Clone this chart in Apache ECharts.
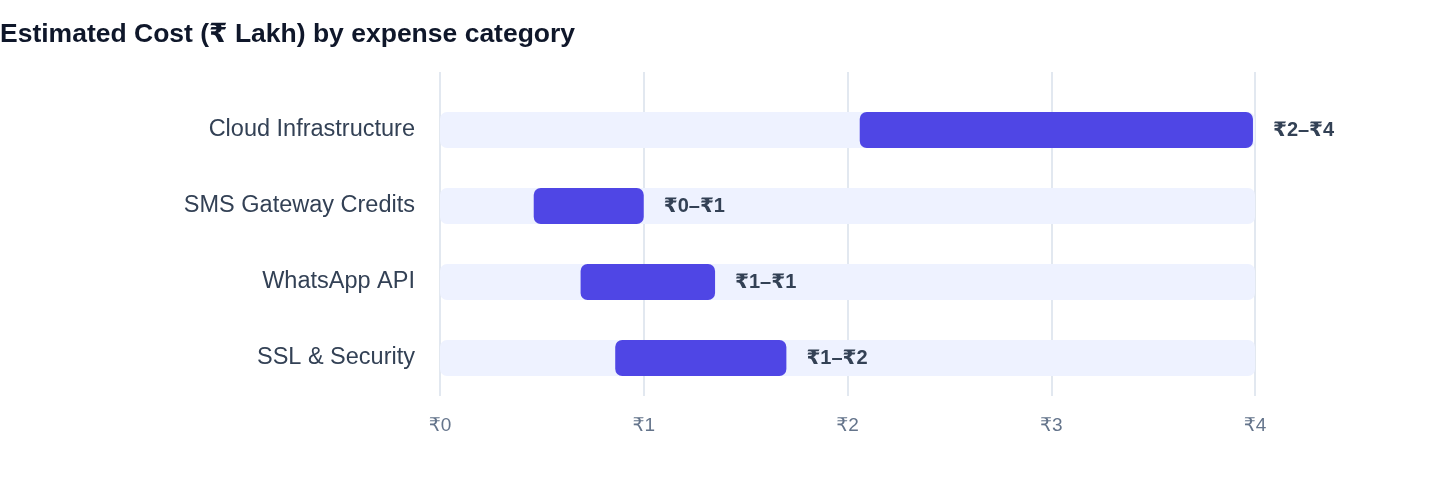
<!DOCTYPE html>
<html>
<head>
<meta charset="utf-8">
<script src="https://cdn.jsdelivr.net/npm/echarts@6/dist/echarts.min.js"></script>
<style>
html,body{margin:0;padding:0;background:#fff;}
#chart{width:1440px;height:484px;}
</style>
</head>
<body>
<div id="chart"></div>
<script>
const categories = ['Cloud Infrastructure', 'SMS Gateway Credits', 'WhatsApp API', 'SSL & Security'];
const lowValues = [2.06, 0.46, 0.69, 0.86];
const highValues = [3.99, 1.0, 1.35, 1.70];
const axisTicks = [0, 1, 2, 3, 4];

const FONT = '"Liberation Sans", "DejaVu Sans", "Noto Sans", sans-serif';
const chart = echarts.init(document.getElementById('chart'));

const rangeValues = highValues.map((h, i) => +(h - lowValues[i]).toFixed(4));

const option = {
  backgroundColor: '#ffffff',
  animation: false,
  title: {
    text: 'Estimated Cost (₹ Lakh) by expense category',
    left: 0, top: 21, padding: 0,
    textStyle: { fontFamily: FONT, fontSize: 26.5, fontWeight: 'bold', color: '#0f172a' }
  },
  grid: [
    { left: 440, right: 185, top: 92, bottom: 88 },
    { left: 440, right: 185, top: 72, bottom: 88 }
  ],
  xAxis: [
    {
      gridIndex: 0, type: 'value', min: axisTicks[0], max: axisTicks[axisTicks.length - 1], interval: 1,
      axisLine: { show: false }, axisTick: { show: false },
      splitLine: { show: false },
      axisLabel: { margin: 20, color: '#64748b', fontSize: 19, fontFamily: FONT, formatter: v => '₹' + v }
    },
    {
      gridIndex: 1, type: 'value', min: axisTicks[0], max: axisTicks[axisTicks.length - 1], interval: 1,
      axisLine: { show: false }, axisTick: { show: false }, axisLabel: { show: false },
      splitLine: { show: true, lineStyle: { color: '#e2e8f0', width: 2 } }
    }
  ],
  yAxis: [
    {
      gridIndex: 0, type: 'category', data: categories, inverse: true,
      axisLine: { show: false }, axisTick: { show: false },
      axisLabel: { margin: 25, color: '#334155', fontSize: 23.5, fontFamily: FONT }
    },
    {
      gridIndex: 1, type: 'category', data: categories, inverse: true, show: false
    }
  ],
  series: [
    {
      type: 'bar', xAxisIndex: 0, yAxisIndex: 0, stack: 'r', barWidth: 36,
      data: lowValues,
      itemStyle: { color: 'transparent' },
      silent: true
    },
    {
      type: 'bar', xAxisIndex: 0, yAxisIndex: 0, stack: 'r', barWidth: 36,
      data: rangeValues,
      showBackground: true,
      backgroundStyle: { color: '#eef2ff', borderRadius: 7 },
      itemStyle: { color: '#4f46e5', borderRadius: 7 },
      label: {
        show: true, position: 'right', distance: 20,
        fontFamily: FONT, fontSize: 20, fontWeight: 'bold', color: '#334155',
        formatter: p => '₹' + Math.round(lowValues[p.dataIndex]) + '–₹' + Math.round(highValues[p.dataIndex])
      }
    }
  ]
};
chart.setOption(option);
</script>
</body>
</html>
